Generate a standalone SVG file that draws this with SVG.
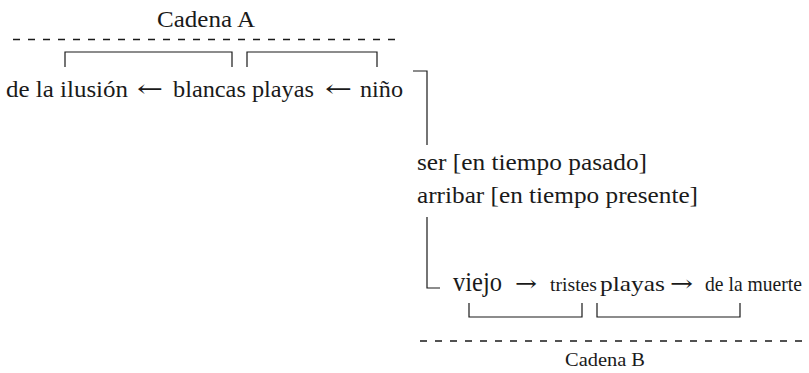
<svg xmlns="http://www.w3.org/2000/svg" width="809" height="373" viewBox="0 0 809 373">
<style>
text{font-family:'Liberation Serif','DejaVu Serif',serif;fill:#1a1a1a}
.ar{font-family:'DejaVu Serif','Liberation Serif',serif}
.ln{stroke:#1a1a1a;stroke-width:1.2;fill:none}
.dash{stroke:#1a1a1a;stroke-width:1.5;stroke-dasharray:7 8;fill:none}
</style>
<rect width="809" height="373" fill="#fff"/>
<g id="cadenaA">
<text x="157" y="27" font-size="23" textLength="98" lengthAdjust="spacingAndGlyphs">Cadena A</text>
<line class="dash" x1="13" y1="39.5" x2="400" y2="39.5"/>
</g>
<g id="chainA">
<text x="6" y="97" font-size="24" textLength="122" lengthAdjust="spacingAndGlyphs">de la ilusión</text>
<text class="ar" x="137" y="97" font-size="24" textLength="26" lengthAdjust="spacingAndGlyphs">←</text>
<text x="173" y="97" font-size="24" textLength="141" lengthAdjust="spacingAndGlyphs">blancas playas</text>
<text class="ar" x="325" y="97" font-size="24" textLength="27" lengthAdjust="spacingAndGlyphs">←</text>
<text x="360" y="97" font-size="24" textLength="43" lengthAdjust="spacingAndGlyphs">niño</text>
</g>
<g id="verbs">
<text x="417" y="170" font-size="24" textLength="230" lengthAdjust="spacingAndGlyphs">ser [en tiempo pasado]</text>
<text x="417" y="203" font-size="24" textLength="281" lengthAdjust="spacingAndGlyphs">arribar [en tiempo presente]</text>
</g>
<g id="chainB">
<text x="453" y="291" font-size="27" textLength="49" lengthAdjust="spacingAndGlyphs">viejo</text>
<text class="ar" x="515" y="291" font-size="22" textLength="22" lengthAdjust="spacingAndGlyphs">→</text>
<text x="550" y="291" font-size="19" textLength="47" lengthAdjust="spacingAndGlyphs">tristes</text>
<text x="600" y="291" font-size="21" textLength="65" lengthAdjust="spacingAndGlyphs">playas</text>
<text class="ar" x="670" y="291" font-size="22" textLength="23" lengthAdjust="spacingAndGlyphs">→</text>
<text x="705" y="291" font-size="21" textLength="97" lengthAdjust="spacingAndGlyphs">de la muerte</text>
</g>
<g id="cadenaB">
<line class="dash" x1="420" y1="341" x2="806" y2="341"/>
<text x="565" y="366" font-size="19" textLength="80" lengthAdjust="spacingAndGlyphs">Cadena B</text>
</g>
<g id="connectors">
<path class="ln" d="M65 67V52H232V67"/>
<path class="ln" d="M247 67V52H377V67"/>
<path class="ln" d="M413 71H427V145"/>
<path class="ln" d="M427 217V288H440"/>
<path class="ln" d="M469 303V317H582V303"/>
<path class="ln" d="M597 303V317H740V303"/>
</g>
</svg>
